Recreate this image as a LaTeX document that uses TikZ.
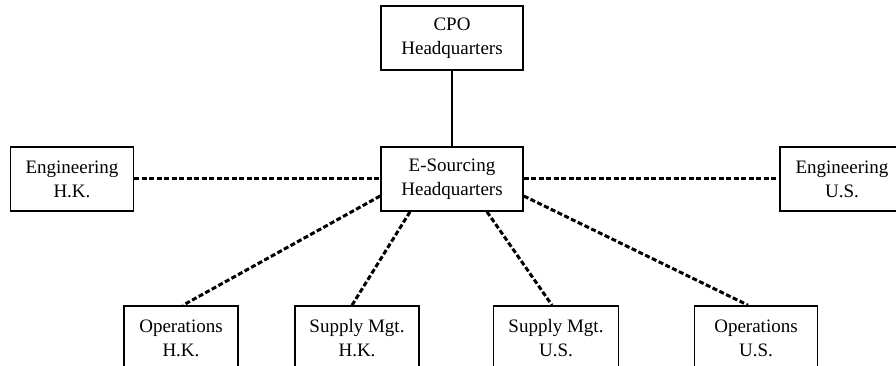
\documentclass[tikz,border=0pt]{standalone}
\usepackage{fontspec}
\setmainfont{Liberation Serif}
\usetikzlibrary{positioning}

\begin{document}
\begin{tikzpicture}[x=1pt,y=1pt,node distance=2cm,on grid,
    unit/.style={draw,line width=1.6pt,align=center,minimum height=64pt,inner sep=0pt,
      font=\fontsize{19}{24}\selectfont},
    link/.style={line width=3pt,dash pattern=on 5pt off 2.5pt}]
    \useasboundingbox[fill=white] (0,0) rectangle (896,366);
    \clip (0,0) rectangle (896,366);
    \node[unit,minimum width=142pt] (esrc) at (452,187) {E-Sourcing\\Headquarters};
    \node[unit,minimum width=142pt] (cpo)    [above=141pt of esrc]              {CPO\\Headquarters};
    \node[unit,minimum width=123pt] (eng_hk) [left=380pt of esrc]               {Engineering\\H.K.};
    \node[unit,minimum width=124pt] (eng_us) [right=390pt of esrc]              {Engineering\\U.S.};
    \node[unit,minimum width=114pt] (ops_hk) [below left=159pt and 271pt of esrc]  {Operations\\H.K.};
    \node[unit,minimum width=124pt] (sup_hk) [below left=159pt and 95pt of esrc]   {Supply Mgt.\\H.K.};
    \node[unit,minimum width=125pt] (sup_us) [below right=159pt and 104pt of esrc] {Supply Mgt.\\U.S.};
    \node[unit,minimum width=123pt] (ops_us) [below right=159pt and 304pt of esrc] {Operations\\U.S.};
    \draw[line width=1.6pt] (cpo) -- (esrc);
    \path[link]
    (eng_hk) edge (esrc)
    (esrc)   edge (eng_us)
    ([yshift=-17pt]esrc.west)  edge ([xshift=2pt]ops_hk.north)
    ([xshift=-42pt]esrc.south) edge ([xshift=-5pt]sup_hk.north)
    ([xshift=35pt]esrc.south)  edge ([xshift=-4pt]sup_us.north)
    ([yshift=-17pt]esrc.east)  edge ([xshift=-8pt]ops_us.north);
\end{tikzpicture}
\end{document}
